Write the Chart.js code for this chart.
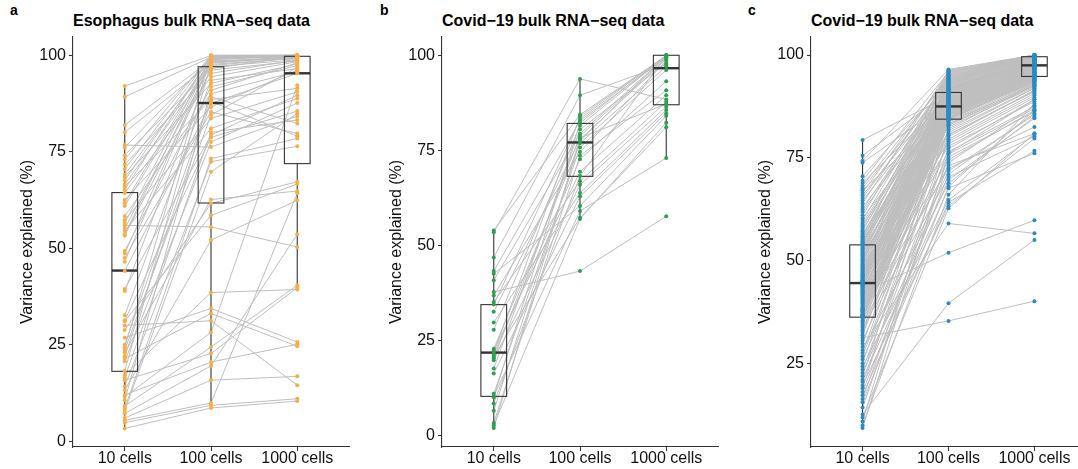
<!DOCTYPE html>
<html>
<head>
<meta charset="utf-8">
<script src="https://cdn.jsdelivr.net/npm/chart.js@4.4.1/dist/chart.umd.min.js"></script>
<style>
  html, body { margin: 0; padding: 0; background: #fff; overflow: hidden; }
  #wrap { position: relative; width: 1078px; height: 469px; overflow: hidden; font-family: 'Liberation Sans', Arial, sans-serif; color: #000; }
  canvas { position: absolute; top: 0; }
  .title { position: absolute; top: 13px; font-weight: bold; font-size: 16px; line-height: 16px; white-space: nowrap; }
  .tag { position: absolute; top: 3px; font-weight: bold; font-size: 14px; line-height: 14px; }
</style>
</head>
<body>
<div id="wrap">
  <div class="tag" style="left:10px">a</div>
  <div class="tag" style="left:380px">b</div>
  <div class="tag" style="left:748px">c</div>
  <div class="title" style="left:73px">Esophagus bulk RNA−seq data</div>
  <div class="title" style="left:442px">Covid−19 bulk RNA−seq data</div>
  <div class="title" style="left:811px">Covid−19 bulk RNA−seq data</div>
  <canvas id="chartA" width="360" height="469" style="left:0px"></canvas>
  <canvas id="chartB" width="360" height="469" style="left:360px"></canvas>
  <canvas id="chartC" width="370" height="469" style="left:718px"></canvas>
</div>
<script>
const categories = ['10 cells', '100 cells', '1000 cells'];
const ticksFrom0 = [0, 25, 50, 75, 100];
const ticksFrom25 = [25, 50, 75, 100];

// each row = one sample: [10 cells, 100 cells, 1000 cells]
const esophagusRows = [
  [92, 99.9, 100], [89.2, 99.5, 99.9], [81.9, 98.8, 99.8], [80, 97.9, 99.6],
  [76.7, 76.2, 84.2], [76.1, 99.2, 100], [74.1, 96.5, 99.7], [73, 100, 99.9],
  [71.7, 95.3, 98.7], [70.5, 99.7, 100], [69.1, 98.4, 99.5], [68.5, 92.7, 97.7],
  [67.6, 99.4, 99.9], [66.5, 97.3, 99.3], [66, 88.5, 91.4], [65.2, 99.8, 99.8],
  [64.3, 94.4, 98.3], [62.5, 86.6, 96.1], [61.7, 99.1, 99.6], [60.9, 98.2, 99.4],
  [58.3, 90, 95.8], [57.3, 83.6, 90.5], [56.5, 99.6, 99.7], [55.1, 97.6, 99.2],
  [54.5, 81, 88.8], [53.6, 99.3, 99.5], [53.3, 96.1, 98.5], [49.3, 91.8, 97.3],
  [48.6, 99, 100], [47.5, 85.3, 79.7], [46.5, 98.6, 99], [44.1, 87.5, 95.3],
  [39.4, 79.3, 89.6], [38.9, 97, 98.8], [32.6, 93.5, 96.5], [31.3, 78.7, 85.5],
  [25, 89.2, 82.3], [24.3, 99.9, 100], [23.6, 84.5, 96.8], [22, 88, 79],
  [20.7, 77.5, 87.6], [18.2, 98, 99.8], [16.5, 80, 83.2], [14.2, 72.4, 76.4],
  [10.6, 90.9, 98], [8.5, 73.2, 78.4], [7.9, 69.8, 84.9], [3.3, 8.6, 10.4],
  [4.8, 9.3, 11], [5.4, 9.9, 64.2], [6, 15.8, 16.8], [7.2, 19.5, 53.6],
  [12, 20.5, 25.1], [15.8, 22.7, 39.8], [9.1, 24.4, 40.4], [11.5, 28.2, 92.2],
  [30, 31.2, 14.5], [21.4, 33.1, 24.6], [26.8, 34.4, 25.7], [17.1, 38.5, 39.3],
  [13.2, 52.1, 62.4], [55.9, 55.5, 50.3], [31.1, 58.5, 66.6], [28.8, 61.6, 67.2],
  [22.9, 62.6, 64.8]
];

const covidRows = [
  [54, 84.4, 99.9], [53.5, 93.8, 88.4], [46.9, 89.5, 97.6], [43.3, 82.8, 99.5],
  [42.6, 60.4, 84.1], [40.9, 79.4, 99.7], [37.8, 43.3, 57.7], [36.9, 74.6, 98.6],
  [35.2, 66.9, 87.8], [34.5, 83.3, 100], [32.6, 77.9, 99], [29.8, 63.8, 85.6],
  [27.9, 81.5, 99.8], [22.9, 76.9, 97.1], [22.4, 69.4, 89.5], [21.9, 83.9, 99.9],
  [21.4, 72.7, 93.2], [20.9, 57.3, 81.1], [20.4, 78.8, 99.3], [19.9, 66, 86.5],
  [17.7, 80.5, 98], [16.4, 62.9, 84.8], [11.1, 75.8, 96.1], [10.4, 59.1, 73],
  [10.2, 82.2, 100], [8.5, 68.3, 100], [6.6, 77.4, 100], [3.4, 73.6, 90.8],
  [2.8, 57, 82.3], [2.1, 78.3, 87.2]
];

const covidLargeRows = [
  [79.3, 90.1, 98.9], [75.5, 91.2, 99.3], [74.2, 96.5, 100], [73.8, 88.6, 97.2],
  [70.5, 93.7, 99.8], [69.4, 95.9, 100], [68.9, 89.4, 96.4], [68.2, 94.5, 99.9],
  [67.6, 92.6, 99.5], [67.1, 86.3, 95.1], [66.5, 95.3, 100], [65.9, 91.8, 98.6],
  [65.2, 94.1, 99.7], [64.6, 90.7, 98.1], [63.9, 96.1, 100], [63.1, 88.9, 97.6],
  [62.4, 93.3, 99.6], [61.8, 92.1, 99.1], [61, 95.1, 100], [60.3, 87.9, 96.8],
  [59.7, 94.9, 99.9], [59.1, 91.5, 98.4], [58.6, 89.8, 97.9], [58, 93.9, 99.7],
  [57.5, 90.4, 98.7], [57.1, 95.7, 100], [56.7, 85.6, 94.6], [56.3, 92.9, 99.4],
  [55.9, 94.3, 99.8], [55.6, 89.1, 97.4], [55.3, 91.1, 98.8], [55, 96.3, 100],
  [54.7, 88.2, 96.2], [54.5, 93.1, 99.2], [54.3, 90.9, 98.2], [54.1, 87.4, 95.9],
  [53.9, 92.4, 99], [53.6, 94.7, 99.9], [53.3, 89.6, 97.7], [53, 91.4, 98.5],
  [52.7, 86.8, 95.6], [52.4, 95.5, 100], [52.1, 90.3, 98.3], [51.8, 88.4, 96.9],
  [51.5, 92.3, 99.3], [51.2, 85.2, 93.8], [50.9, 93.5, 99.6], [50.6, 89.9, 97.8],
  [50.3, 87.1, 95.4], [50, 91.6, 98.9], [49.7, 88.7, 97.1], [49.4, 94, 99.8],
  [49.1, 86.1, 94.9], [48.8, 90.6, 98.4], [48.5, 82.5, 92.3], [48.3, 92.8, 99.4],
  [48, 87.8, 96.5], [47.8, 89.3, 97.5], [47.5, 84.7, 93.3], [47.3, 91, 98.7],
  [47, 86.6, 95.2], [46.8, 93.6, 99.7], [46.6, 88, 96.6], [46.4, 80.6, 91.1],
  [46.2, 90.2, 98], [46, 85.8, 94.7], [45.8, 92, 99.1], [45.6, 87.6, 96.3],
  [45.4, 89.5, 97.3], [45.2, 83.7, 92.7], [45, 91.3, 98.6], [44.9, 86.4, 95.3],
  [44.8, 94.6, 100], [44.7, 88.8, 97], [44.6, 79, 90.2], [44.4, 90.8, 98.2],
  [44.2, 87, 95.7], [44, 92.7, 99.5], [43.7, 85.4, 94.4], [43.5, 89, 97.3],
  [43.2, 77.8, 88.7], [43, 91.9, 99], [42.7, 86.9, 95.8], [42.5, 84.5, 93.9],
  [42.2, 51.9, 59.8], [42, 90, 98], [41.7, 88.3, 96.7], [41.5, 83.3, 93],
  [41.2, 93.2, 99.6], [41, 86.2, 95], [40.7, 76.5, 87.4], [40.5, 89.7, 97.6],
  [40.2, 85, 94.2], [40, 91.7, 98.8], [39.7, 81.6, 92], [39.5, 87.5, 96],
  [39.2, 84.8, 94.5], [39, 88.1, 96.9], [38.7, 74.5, 86.6], [38.5, 90.5, 98.1],
  [38.3, 86, 95.5], [38.1, 82.9, 92.6], [37.9, 89.2, 97.2], [37.7, 85.7, 94.8],
  [37.5, 72.4, 82.5], [37.3, 87.3, 95.9], [37.1, 84.4, 94], [36.9, 91.2, 98.5],
  [36.8, 80.1, 91.5], [36.7, 86.5, 95.4], [36.6, 84.3, 93.6], [36.5, 88.5, 97],
  [36.4, 78.4, 89.7], [36.1, 85.9, 94.7], [35.8, 84.6, 93.5], [35.4, 87.7, 96.1],
  [35, 83.1, 92.5], [34.6, 73.1, 80.9], [34.1, 86.7, 95.1], [33.6, 70.3, 80.2],
  [33, 85.3, 94.3], [32.4, 81.1, 91.9], [31.8, 87.2, 95.6], [31.2, 35.3, 40.1],
  [30.5, 75.9, 87], [29.8, 84.9, 94.1], [29, 59, 56.6], [28.2, 68.8, 85],
  [27.5, 86.4, 95], [26.7, 82, 92.8], [25.9, 71.8, 85.4], [25, 84.2, 93.7],
  [24.2, 64.7, 80.6], [23.4, 79.5, 90.7], [22.6, 69.6, 84.6], [21.8, 85.5, 94.6],
  [21, 67.6, 76.1], [20.4, 77.2, 89.2], [19.6, 63.3, 79.7], [18.9, 83.9, 93.2],
  [18, 71, 85.8], [17.2, 64.1, 76.7], [16.3, 75.2, 86.2], [15.5, 68, 86.6],
  [14.2, 73.8, 87.8], [12.5, 39.6, 55], [11.8, 62.7, 80.9], [10.8, 80.6, 91.3],
  [9.9, 66, 88.2], [9.2, 76.1, 89.2]
];

// box stats per category: [whisker low, q1, median, q3, whisker high]
const esophagusBox = [[3.3, 18.1, 44.2, 64.4, 92], [8.6, 61.7, 87.6, 97.0, 99.8], [39.3, 71.9, 95.3, 99.7, 100]];
const covidBox = [[2.1, 10.4, 21.9, 34.5, 54], [57.0, 68.2, 77.1, 82.1, 93.8], [73, 87, 96.6, 100, 100]];
const covidLargeBox = [[10.8, 36.2, 44.5, 53.8, 79.3], [75.5, 84.4, 87.5, 90.9, 96.5], [88.2, 94.8, 97.5, 99.6, 100]];

const FONT = "'Liberation Sans', Arial, sans-serif";

const boxPlugin = {
    id: 'boxes',
    beforeDatasetDraw(chart, args, opts) {
        if (args.index !== 0) return; // draw boxes right before the points
        const { ctx } = chart;
        const x = chart.scales.x;
        const y = chart.scales.y;
        ctx.save();
        ctx.strokeStyle = '#333333';
        opts.stats.forEach((s, i) => {
            const cx = x.getPixelForValue(i + 1);
            const l = x.getPixelForValue(i + 1 - opts.halfWidth);
            const r = x.getPixelForValue(i + 1 + opts.halfWidth);
            const [lo, q1, med, q3, hi] = s.map(v => y.getPixelForValue(v));
            ctx.lineWidth = 1.1;
            ctx.beginPath();
            ctx.moveTo(cx, lo); ctx.lineTo(cx, q1);
            ctx.moveTo(cx, q3); ctx.lineTo(cx, hi);
            ctx.stroke();
            ctx.strokeRect(l, q3, r - l, q1 - q3);
            ctx.lineWidth = 2.4;
            ctx.beginPath();
            ctx.moveTo(l, med); ctx.lineTo(r, med);
            ctx.stroke();
        });
        ctx.restore();
    }
};

function drawPanel(canvasId, rows, stats, color, yMin, yMax, yTicks, axisWidth, titlePad, padRight) {
    const points = [];
    rows.forEach(r => r.forEach((v, j) => points.push({ x: j + 1, y: v })));

    const datasets = [{
        data: points,
        showLine: false,
        pointRadius: 2,
        pointBackgroundColor: color,
        pointBorderWidth: 0,
        pointHoverRadius: 2
    }];
    rows.forEach(r => {
        datasets.push({
            data: r.map((v, j) => ({ x: j + 1, y: v })),
            borderColor: '#bebebe',
            borderWidth: 1,
            pointRadius: 0,
            tension: 0,
            fill: false
        });
    });

    new Chart(document.getElementById(canvasId), {
        type: 'line',
        data: { datasets: datasets },
        options: {
            responsive: false,
            animation: false,
            devicePixelRatio: 1,
            layout: { padding: { top: 37, right: padRight, left: 0, bottom: 0 } },
            plugins: {
                legend: { display: false },
                tooltip: { enabled: false },
                boxes: { stats: stats, halfWidth: 0.149 }
            },
            scales: {
                x: {
                    type: 'linear',
                    min: 0.4,
                    max: 3.6,
                    afterBuildTicks: s => { s.ticks = [1, 2, 3].map(v => ({ value: v })); },
                    afterFit: s => { s.height = 22; },
                    ticks: {
                        autoSkip: false,
                        maxRotation: 0,
                        padding: 0,
                        color: '#111',
                        font: { family: FONT, size: 16, lineHeight: 1 },
                        callback: v => categories[v - 1]
                    },
                    grid: { display: true, drawOnChartArea: false, tickLength: 4, color: '#333', tickWidth: 1.1 },
                    border: { display: true, color: '#333', width: 1.1 }
                },
                y: {
                    min: yMin,
                    max: yMax,
                    afterBuildTicks: s => { s.ticks = yTicks.map(v => ({ value: v })); },
                    afterFit: s => { s.width = axisWidth; },
                    ticks: {
                        padding: 3,
                        color: '#111',
                        font: { family: FONT, size: 16 },
                        callback: v => String(v)
                    },
                    title: {
                        display: true,
                        text: 'Variance explained (%)',
                        color: '#111',
                        font: { family: FONT, size: 16 },
                        padding: { top: titlePad, bottom: 0 }
                    },
                    grid: { display: true, drawOnChartArea: false, tickLength: 4, color: '#333', tickWidth: 1.1 },
                    border: { display: true, color: '#333', width: 1.1 }
                }
            }
        },
        plugins: [boxPlugin]
    });
}

drawPanel('chartA', esophagusRows, esophagusBox, '#f9ae45', -1.5, 104.7, ticksFrom0, 73, 18, 11);
drawPanel('chartB', covidRows, covidBox, '#2ca050', -2.9, 104.8, ticksFrom0, 82, 27, 2);
drawPanel('chartC', covidLargeRows, covidLargeBox, '#2a8bc4', 4.6, 104.4, ticksFrom25, 93, 38, 0);
</script>
</body>
</html>
